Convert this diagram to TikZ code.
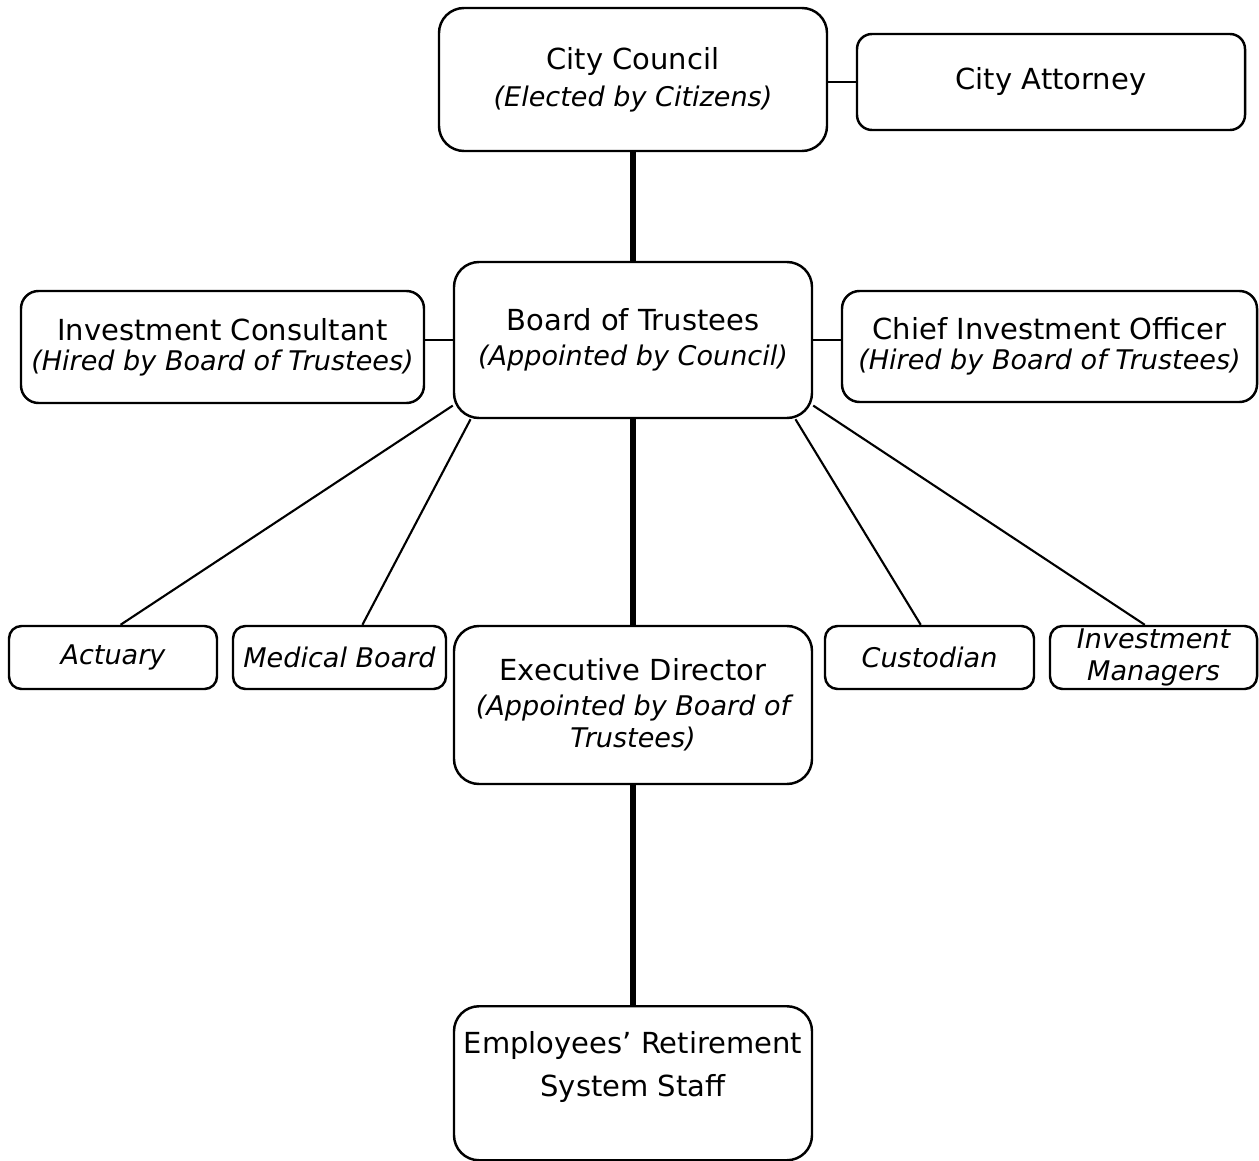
\documentclass[tikz,border=0pt]{standalone}
\usepackage{fontspec}
\setmainfont{DejaVu Sans}
\newcommand{\hired}[1]{{\fontsize{15.4}{17}\selectfont\itshape #1}}

\begin{document}
\begin{tikzpicture}[box/.style = {draw, line width=1.4pt, rounded corners=#1, align=center, inner sep=0pt, font=\fontsize{16.5}{17}\selectfont}, box/.default=0.5cm, trunk/.style = {line width=3.2pt}, twig/.style = {line width=1.2pt}]
	\useasboundingbox (0,0) rectangle (25.18,-23.22);
	\node[box, minimum width=7.76cm, minimum height=2.86cm] (cc) at (12.66,-1.59) {City Council\\[4pt]\hired{(Elected by Citizens)}};
	\node[box=0.3cm, minimum width=7.76cm, minimum height=1.92cm] (ca) at (21.02,-1.64) {City Attorney};
	\draw[twig] (cc.east |- ca.west) -- (ca.west);
	\node[box, minimum width=7.16cm, minimum height=3.12cm] (bt) at (12.66,-6.8) {Board of Trustees\\[3pt]\hired{(Appointed by Council)}};
	\draw[trunk] (cc) -- (bt);
	\node[box=0.35cm, minimum width=8.06cm, minimum height=2.24cm] (ic) at (4.45,-6.94) {Investment Consultant\\\hired{(Hired by Board of Trustees)}};
	\draw[twig] (ic.east |- bt.west) -- (bt.west);
	\node[box=0.35cm, minimum width=8.3cm, minimum height=2.22cm] (cio) at (20.99,-6.93) {Chief Investment Officer\\\hired{(Hired by Board of Trustees)}};
	\draw[twig] (bt.east) -- (cio.west |- bt.east);
	\node[box=0.25cm, minimum width=4.16cm, minimum height=1.26cm] (ac) at (2.26,-13.15) {\hired{Actuary}};
	\draw[twig] (bt.200) -- (ac.77);
	\node[box=0.25cm, minimum width=4.26cm, minimum height=1.26cm] (mb) at (6.79,-13.15) {\hired{Medical Board}};
	\draw[twig] (bt.206) -- (mb.55);
	\node[box=0.25cm, minimum width=4.18cm, minimum height=1.26cm] (cu) at (18.59,-13.15) {\hired{Custodian}};
	\draw[twig] (bt.334) -- (cu.105);
	\node[box=0.25cm, minimum width=4.14cm, minimum height=1.26cm] (im) at (23.07,-13.15) {\hired{Investment}\\[1pt]\hired{Managers}};
	\draw[twig] (bt.340) -- (im.105);
	\node[box, minimum width=7.16cm, minimum height=3.16cm] (ed) at (12.66,-14.1) {Executive Director\\[3pt]\hired{(Appointed by Board of}\\[1pt]\hired{Trustees)}};
	\draw[trunk] (bt) -- (ed);
	\node[box, minimum width=7.16cm, anchor=north, text height=1.80cm, text depth=1.28cm] (st) at (12.66,-20.1) {Employees’ Retirement\\[7.4pt]System Staff};
	\draw[trunk] (ed) -- (st);
\end{tikzpicture}
\end{document}
